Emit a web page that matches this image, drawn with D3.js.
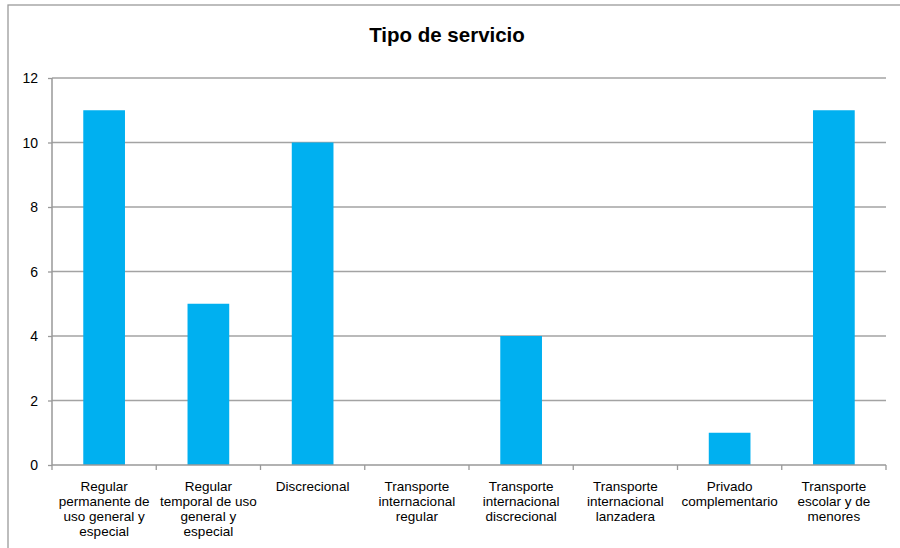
<!DOCTYPE html>
<html><head><meta charset="utf-8">
<script src="https://cdn.jsdelivr.net/npm/d3@7"></script>
<style>body{margin:0;background:#fff}svg{display:block}</style>
</head><body>
<script>
const categories = [
  ["Regular","permanente de","uso general y","especial"],
  ["Regular","temporal de uso","general y","especial"],
  ["Discrecional"],
  ["Transporte","internacional","regular"],
  ["Transporte","internacional","discrecional"],
  ["Transporte","internacional","lanzadera"],
  ["Privado","complementario"],
  ["Transporte","escolar y de","menores"]
];
const values = [11, 5, 10, 0, 4, 0, 1, 11];
const yTicks = [0, 2, 4, 6, 8, 10, 12];
const title = "Tipo de servicio";

const W = 900, H = 548;
const svg = d3.select("body").append("svg").attr("width", W).attr("height", H);
const font = "'Liberation Sans', Arial, sans-serif";

// chart border (extends beyond the image on right/bottom)
svg.append("rect").attr("x", 8).attr("y", 5).attr("width", W + 20).attr("height", H + 20)
  .attr("fill", "none").attr("stroke", "#9a9a9a").attr("stroke-width", 1.3);

const m = {l: 52, r: 886, t: 78, b: 465};
const idx = categories.map((d, i) => i);
const x = d3.scaleBand().domain(idx).range([m.l, m.r]).paddingInner(0).paddingOuter(0);
const y = d3.scaleLinear().domain([0, 12]).range([m.b, m.t]);

// gridlines
svg.append("g").selectAll("line").data(yTicks.filter(t => t > 0)).join("line")
  .attr("x1", m.l).attr("x2", m.r).attr("y1", d => y(d)).attr("y2", d => y(d))
  .attr("stroke", "#a3a3a3").attr("stroke-width", 1.5);

// bars
const bw = x.bandwidth() * 0.4;
svg.append("g").selectAll("rect").data(values).join("rect")
  .attr("x", (d, i) => x(i) + (x.bandwidth() - bw) / 2)
  .attr("width", bw)
  .attr("y", d => y(d))
  .attr("height", d => y(0) - y(d))
  .attr("fill", "#00b0f0");

// y axis
const yAxis = svg.append("g").attr("transform", `translate(${m.l},0)`)
  .call(d3.axisLeft(y).tickValues(yTicks).tickSize(4).tickPadding(10).tickFormat(d3.format("d")));
yAxis.select(".domain").attr("stroke", "#999").attr("stroke-width", 1.5).attr("d", `M0,${m.t}V${m.b}`);
yAxis.selectAll(".tick line").attr("stroke", "#999").attr("stroke-width", 1.3);
yAxis.selectAll(".tick text").attr("font-family", font).attr("font-size", 14).attr("fill", "#000").attr("dy", "0.35em");

// x axis
const xAxisG = svg.append("g").attr("transform", `translate(0,${m.b})`);
xAxisG.append("line").attr("x1", m.l).attr("x2", m.r).attr("stroke", "#999").attr("stroke-width", 1.5);
const tickPos = idx.map(i => x(i)).concat([m.r]);
xAxisG.selectAll("line.tk").data(tickPos).join("line").attr("class", "tk")
  .attr("x1", d => d).attr("x2", d => d).attr("y1", 0).attr("y2", 5)
  .attr("stroke", "#999").attr("stroke-width", 1.3);

const lab = svg.append("g").selectAll("text").data(categories).join("text")
  .attr("font-family", font).attr("font-size", 13.5).attr("fill", "#000")
  .attr("text-anchor", "middle");
lab.each(function(lines, i) {
  d3.select(this).selectAll("tspan").data(lines).join("tspan")
    .attr("x", x(i) + x.bandwidth() / 2)
    .attr("y", (d, j) => 490.5 + j * 15.3)
    .text(d => d);
});

// title
svg.append("text").attr("x", 447).attr("y", 42).attr("text-anchor", "middle")
  .attr("font-family", font).attr("font-size", 20.5).attr("font-weight", "bold").text(title);
</script>
</body></html>
